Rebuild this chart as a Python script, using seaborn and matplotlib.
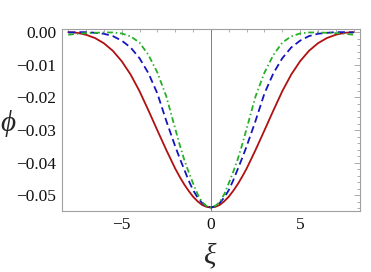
import matplotlib
matplotlib.use("Agg")
import matplotlib.pyplot as plt
from matplotlib.ticker import MultipleLocator
import seaborn as sns
import pandas as pd

# values (finer steps near the minimum)
xi = [-8.0, -7.5, -7.0, -6.5, -6.0, -5.5, -5.0, -4.5, -4.0, -3.5, -3.0,
      -2.5, -2.0, -1.75, -1.5, -1.25, -1.0, -0.75, -0.5, -0.25, 0.0,
      0.25, 0.5, 0.75, 1.0, 1.25, 1.5, 1.75, 2.0, 2.5, 3.0,
      3.5, 4.0, 4.5, 5.0, 5.5, 6.0, 6.5, 7.0, 7.5, 8.0]

phi_red = [0.0000, -0.0002, -0.0008, -0.0018, -0.0034, -0.0057, -0.0089,
           -0.0130, -0.0181, -0.0240, -0.0301, -0.0361, -0.0418, -0.0443,
           -0.0466, -0.0486, -0.0504, -0.0518, -0.0529, -0.0535, -0.0537,
           -0.0535, -0.0529, -0.0518, -0.0504, -0.0486, -0.0466, -0.0443,
           -0.0418, -0.0361, -0.0301, -0.0240, -0.0181, -0.0130, -0.0089,
           -0.0057, -0.0034, -0.0018, -0.0008, -0.0002, 0.0000]

phi_blue = [-0.0001, 0.0000, 0.0000, -0.0002, -0.0005, -0.0012, -0.0026,
            -0.0047, -0.0080, -0.0126, -0.0188, -0.0272, -0.0350, -0.0386,
            -0.0420, -0.0454, -0.0484, -0.0506, -0.0523, -0.0533, -0.0537,
            -0.0533, -0.0523, -0.0506, -0.0484, -0.0454, -0.0420, -0.0386,
            -0.0350, -0.0272, -0.0188, -0.0126, -0.0080, -0.0047, -0.0026,
            -0.0012, -0.0005, -0.0002, 0.0000, 0.0000, -0.0001]

phi_green = [-0.0008, -0.0005, -0.0003, -0.0002, -0.0001, -0.0001, -0.0004,
             -0.0013, -0.0032, -0.0070, -0.0124, -0.0197, -0.0296, -0.0345,
             -0.0390, -0.0428, -0.0463, -0.0496, -0.0520, -0.0532, -0.0537,
             -0.0532, -0.0520, -0.0496, -0.0463, -0.0428, -0.0390, -0.0345,
             -0.0296, -0.0197, -0.0124, -0.0070, -0.0032, -0.0013, -0.0004,
             -0.0001, -0.0001, -0.0002, -0.0003, -0.0005, -0.0008]

xticks = [-5, 0, 5]
xtick_labels = ["\u22125", "0", "5"]
yticks = [0.0, -0.01, -0.02, -0.03, -0.04, -0.05]
ytick_labels = ["0.00", "\u22120.01", "\u22120.02", "\u22120.03", "\u22120.04", "\u22120.05"]


def makePlot():
    sns.set_style("white")
    plt.rcParams["font.family"] = ["Liberation Serif", "DejaVu Serif"]

    df = pd.DataFrame({"xi": xi, "red": phi_red, "blue": phi_blue, "green": phi_green})

    fig = plt.figure(figsize=(3.71, 2.72), dpi=100)
    ax = fig.add_axes([0.167, 0.224, 0.803, 0.671])

    ax.axvline(0, color="#808080", lw=0.7, zorder=1)

    sns.lineplot(data=df, x="xi", y="red", color="#b01010", lw=1.3, ax=ax)
    sns.lineplot(data=df, x="xi", y="blue", color="#1515c0", lw=1.3,
                 linestyle=(0, (4.0, 2.2)), ax=ax)
    sns.lineplot(data=df, x="xi", y="green", color="#25b025", lw=1.3,
                 linestyle=(0, (3.2, 1.6, 0.8, 1.6)), ax=ax)

    ax.set_xlim(-8.35, 8.35)
    ax.set_ylim(-0.0548, 0.0011)

    ax.set_xticks(xticks)
    ax.set_xticklabels(xtick_labels)
    ax.set_yticks(yticks)
    ax.set_yticklabels(ytick_labels)
    ax.xaxis.set_minor_locator(MultipleLocator(1))
    ax.yaxis.set_minor_locator(MultipleLocator(0.002))

    ax.tick_params(which="both", direction="in", top=True, right=True,
                   color="#a0a0a0", width=0.6, labelsize=12.5, labelcolor="#111111", pad=4)
    ax.tick_params(which="major", length=4.5)
    ax.tick_params(which="minor", length=2.2)
    for sp in ax.spines.values():
        sp.set_color("#a0a0a0")
        sp.set_linewidth(0.8)

    ax.set_xlabel("")
    ax.set_ylabel("")
    fig.text(0.566, 0.058, "\u03be", fontsize=21, style="italic", ha="center", va="center")
    fig.text(0.0, 0.545, "\u03d5", fontsize=21, style="italic", ha="left", va="center")

    fig.savefig("out.png", dpi=100)


def main():
    makePlot()


if __name__ == "__main__":
    main()
